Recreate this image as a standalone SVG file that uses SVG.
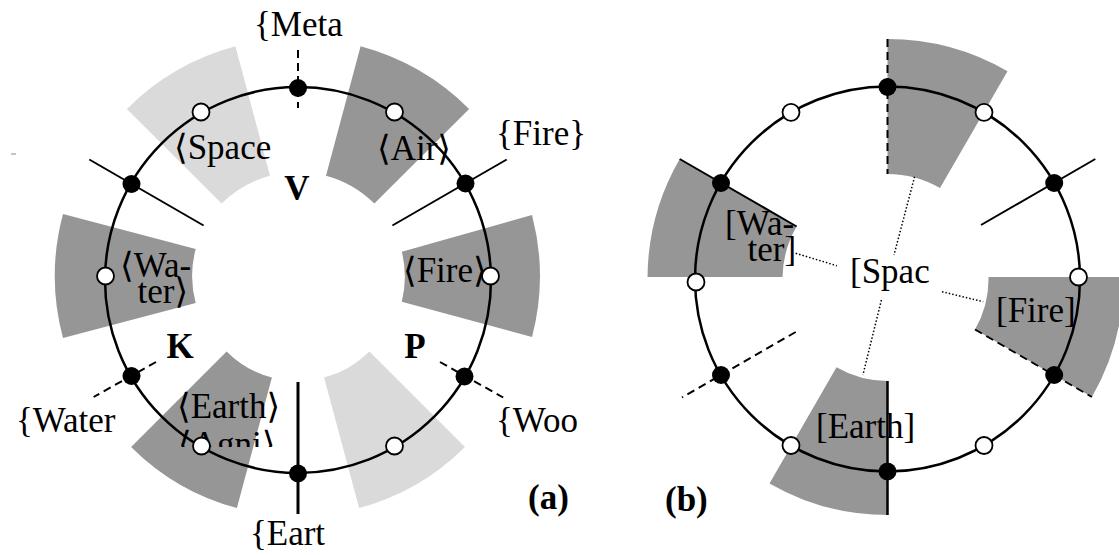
<svg xmlns="http://www.w3.org/2000/svg" width="1119" height="555" viewBox="0 0 1119 555">
<style>
  .dk { fill: #969696; }
  .lt { fill: #dadada; }
  .t { font-family: "Liberation Serif", "DejaVu Serif", serif; font-size: 35px; fill: #000; }
  .b { font-family: "Liberation Serif", "DejaVu Serif", serif; font-size: 35px; font-weight: bold; fill: #000; }
  .ring { fill: none; stroke: #000; stroke-width: 2.5; }
  .sl { stroke: #000; stroke-width: 2; fill: none; }
  .dl { stroke: #000; stroke-width: 2; stroke-dasharray: 8 5; fill: none; }
  .dt { stroke: #000; stroke-width: 1.5; stroke-dasharray: 1.5 2; fill: none; }
  .bd { fill: #000; }
  .wd { fill: #fff; stroke: #000; stroke-width: 1.8; }
</style>
<defs>
  <clipPath id="clipSpace"><rect x="150" y="120" width="124" height="60"/></clipPath>
  <clipPath id="clipAgni"><rect x="160" y="420" width="120" height="27"/></clipPath>
</defs>
<rect width="1119" height="555" fill="#fff"/>

<!-- (a) sectors with labels -->
<g id="a-space">
  <path class="lt" d="M235.4,46.2 A242,242 0 0 0 126.9,108.9 L221.6,203.6 A108,108 0 0 1 270,175.7 Z"/>
  <text class="t" x="174" y="159" clip-path="url(#clipSpace)">⟨Space⟩</text>
</g>
<g id="a-air">
  <path class="dk" d="M360.6,46.2 A242,242 0 0 1 469.1,108.9 L374.4,203.6 A108,108 0 0 0 326,175.7 Z"/>
  <text class="t" x="377" y="160">⟨Air⟩</text>
</g>
<g id="a-fire">
  <path class="dk" d="M401.8,251.7 L532,215 A240,240 0 0 1 532,337 L401.8,301.7 A104,104 0 0 0 401.8,251.7 Z"/>
  <text class="t" x="403" y="282">⟨Fire⟩</text>
</g>
<g id="a-water">
  <path class="dk" d="M195.7,249 L63,214 A240,240 0 0 0 63,338 L195.7,303 A104,104 0 0 1 195.7,249 Z"/>
  <text class="t" x="120" y="277">⟨Wa-</text>
  <text class="t" x="137.5" y="303">ter⟩</text>
</g>
<g id="a-earth">
  <path class="dk" d="M226.6,351.4 L131.1,446.9 A236,236 0 0 0 236.9,508 L271.9,377.6 A101,101 0 0 1 226.6,351.4 Z"/>
  <text class="t" x="177" y="418">⟨Earth⟩</text>
  <text class="t" x="178" y="456" clip-path="url(#clipAgni)">⟨Agni⟩</text>
</g>
<g id="a-wood">
  <path class="lt" d="M324.1,377.6 L359.1,508 A236,236 0 0 0 464.9,446.9 L369.4,351.4 A101,101 0 0 1 324.1,377.6 Z"/>
</g>

<!-- (b) sectors with labels -->
<g id="b-top">
  <path class="dk" d="M887.5,39 A240,240 0 0 1 1007.5,71.2 L940,188.1 A105,105 0 0 0 887.5,174 Z"/>
</g>
<g id="b-water">
  <path class="dk" d="M679.7,159 A240,240 0 0 0 647.5,277 L782.5,277 A105,105 0 0 1 796.6,226.5 Z"/>
  <text class="t" x="725" y="235">[Wa-</text>
  <text class="t" x="747.5" y="261">ter]</text>
</g>
<g id="b-fire">
  <path class="dk" d="M988.5,277 L1123.5,277 A236,236 0 0 1 1091.9,397 L975,329.5 A101,101 0 0 0 988.5,277 Z"/>
  <text class="t" x="996" y="322">[Fire]</text>
</g>
<g id="b-earth">
  <path class="dk" d="M887.5,381 L887.5,515 A236,236 0 0 1 769.5,483.4 L836.5,367.3 A102,102 0 0 0 887.5,381 Z"/>
  <text class="t" x="816" y="438">[Earth]</text>
</g>
<g id="b-space">
  <text class="t" x="850" y="283">[Spac</text>
</g>

<!-- outer labels (a) -->
<g id="a-labels">
  <text class="t" x="254" y="36">{Meta</text>
  <text class="t" x="496" y="145">{Fire}</text>
  <text class="t" x="16" y="432">{Water</text>
  <text class="t" x="496" y="432">{Woo</text>
  <text class="t" x="250" y="545">{Eart</text>
  <text class="b" x="297" y="200" text-anchor="middle">V</text>
  <text class="b" x="180" y="358" text-anchor="middle">K</text>
  <text class="b" x="415" y="358" text-anchor="middle">P</text>
  <text class="b" x="528" y="509">(a)</text>
  <line x1="11" y1="154" x2="16" y2="154" stroke="#888" stroke-width="1"/>
</g>
<g id="b-labels">
  <text class="b" x="665" y="511">(b)</text>
</g>

<!-- connectors -->
<g id="connectors">
  <circle class="ring" cx="298" cy="280" r="193"/>
  <line class="dl" x1="298" y1="50" x2="298" y2="108"/>
  <line class="sl" x1="392.4" y1="225.5" x2="506.7" y2="159.5"/>
  <line class="sl" x1="203.6" y1="225.5" x2="89.3" y2="159.5"/>
  <line class="dl" x1="156" y1="362" x2="93.6" y2="397"/>
  <line class="dl" x1="440" y1="362" x2="503.2" y2="397.5"/>
  <line class="sl" x1="298" y1="382" x2="298" y2="514" style="stroke-width:3"/>

  <circle class="ring" cx="887.5" cy="279" r="192.5"/>
  <line class="dl" x1="887.5" y1="39" x2="887.5" y2="174"/>
  <line class="sl" x1="679.7" y1="159" x2="796.6" y2="226.5"/>
  <line class="dl" x1="975" y1="329.5" x2="1091.9" y2="397"/>
  <line class="sl" x1="887.5" y1="381" x2="887.5" y2="515" style="stroke-width:2.5"/>
  <line class="sl" x1="981" y1="225" x2="1095.3" y2="159"/>
  <line class="dl" x1="795.7" y1="332" x2="682" y2="397.5"/>
  <line class="dt" x1="914.6" y1="176.7" x2="894" y2="255"/>
  <line class="dt" x1="795.7" y1="253.3" x2="836.8" y2="265.7"/>
  <line class="dt" x1="942" y1="291.7" x2="983.2" y2="301.7"/>
  <line class="dt" x1="881.4" y1="300" x2="862.9" y2="375"/>
</g>

<!-- dots (a) -->
<g id="a-dots">
  <circle class="bd" cx="298" cy="88" r="9"/>
  <circle class="wd" cx="394.5" cy="112" r="8.5"/>
  <circle class="bd" cx="465.5" cy="183.5" r="9"/>
  <circle class="wd" cx="490.5" cy="276" r="8.5"/>
  <circle class="bd" cx="464.5" cy="376.5" r="9"/>
  <circle class="wd" cx="394.5" cy="446" r="8.5"/>
  <circle class="bd" cx="298" cy="473.5" r="9"/>
  <circle class="wd" cx="201.5" cy="446" r="8.5"/>
  <circle class="bd" cx="131.5" cy="376" r="9"/>
  <circle class="wd" cx="105.5" cy="276" r="8.5"/>
  <circle class="bd" cx="131.5" cy="184" r="9"/>
  <circle class="wd" cx="201" cy="112" r="8.5"/>
</g>
<!-- dots (b) -->
<g id="b-dots">
  <circle class="bd" cx="887.5" cy="87" r="9"/>
  <circle class="wd" cx="984" cy="112.3" r="8.5"/>
  <circle class="bd" cx="1054.2" cy="183" r="9"/>
  <circle class="wd" cx="1078.5" cy="277" r="8.5"/>
  <circle class="bd" cx="1054.2" cy="375" r="9"/>
  <circle class="wd" cx="984" cy="445.5" r="8.5"/>
  <circle class="bd" cx="887.5" cy="471.5" r="9"/>
  <circle class="wd" cx="791" cy="445.5" r="8.5"/>
  <circle class="bd" cx="721" cy="375" r="9"/>
  <circle class="wd" cx="696" cy="282" r="8.5"/>
  <circle class="bd" cx="721" cy="183" r="9"/>
  <circle class="wd" cx="791" cy="112.3" r="8.5"/>
</g>
</svg>
